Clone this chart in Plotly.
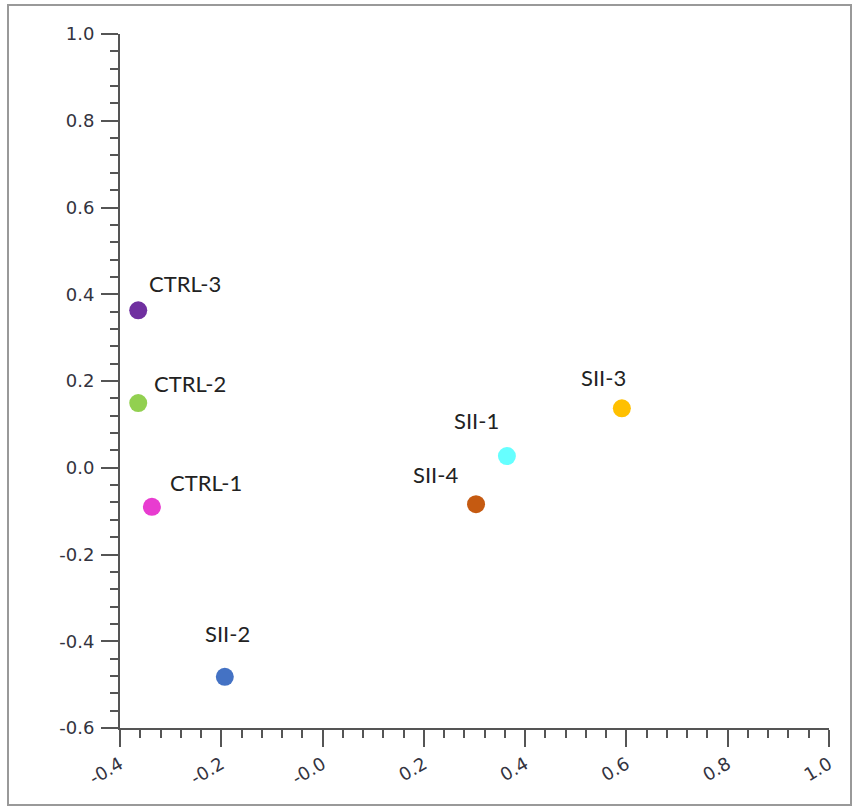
import plotly.graph_objects as go

names = ["CTRL-3", "CTRL-2", "CTRL-1", "SII-2", "SII-4", "SII-1", "SII-3"]
xs = [-0.364, -0.364, -0.337, -0.193, 0.303, 0.364, 0.591]
ys = [0.363, 0.149, -0.090, -0.482, -0.084, 0.027, 0.137]
colors = ["#7030A0", "#92D050", "#E83CD0", "#4472C4", "#C55A11", "#66FFFF", "#FFC000"]
label_dx = [47, 52, 54, 3, -41, -30, -18]
label_dy = [27, 20, 24, 43, 30, 36, 31]

x_tickvals = [-0.4, -0.2, 0.0, 0.2, 0.4, 0.6, 0.8, 1.0]
x_ticktext = ["-0.4", "-0.2", "-0.0", "0.2", "0.4", "0.6", "0.8", "1.0"]
y_tickvals = [-0.6, -0.4, -0.2, 0.0, 0.2, 0.4, 0.6, 0.8, 1.0]
y_ticktext = ["-0.6", "-0.4", "-0.2", "0.0", "0.2", "0.4", "0.6", "0.8", "1.0"]

W, H = 854, 808
ml, mr, mt, mb = 120, 25, 34, 80
pw, ph = W - ml - mr, H - mt - mb

fig = go.Figure()
fig.add_trace(go.Scatter(
    x=xs, y=ys, mode="markers",
    marker=dict(size=18, color=colors, line=dict(width=0)),
    hoverinfo="text", text=names, showlegend=False,
))

for n, x, y, dx, dy in zip(names, xs, ys, label_dx, label_dy):
    fig.add_annotation(x=x, y=y, text=n, showarrow=False, xshift=dx, yshift=dy,
                       font=dict(family="Lato", size=22, color="#222222"))

axis_common = dict(
    showgrid=False, zeroline=False, showline=True, linecolor="#555555", linewidth=2,
    ticks="outside", ticklen=17, tickwidth=2, tickcolor="#555555",
    tickfont=dict(family="DejaVu Sans", size=18, color="#333340"),
    minor=dict(ticks="outside", ticklen=8, tickwidth=2, tickcolor="#555555", dtick=0.04),
    tickmode="array",
)

fig.update_xaxes(range=[-0.4, 1.0], tickangle=-30, tickvals=x_tickvals, ticktext=x_ticktext,
                 **axis_common)
fig.update_yaxes(range=[-0.6, 1.0], ticklabelstandoff=3, tickvals=y_tickvals, ticktext=y_ticktext,
                 **axis_common)

fig.add_shape(type="rect", xref="paper", yref="paper",
              x0=(8 - ml) / pw, x1=(851 - ml) / pw,
              y0=(H - mb - 805) / ph, y1=(H - mb - 5) / ph,
              line=dict(color="#999999", width=2), fillcolor="rgba(0,0,0,0)", layer="below")

fig.update_layout(
    width=W, height=H, margin=dict(l=ml, r=mr, t=mt, b=mb),
    plot_bgcolor="white", paper_bgcolor="white",
)

fig.write_html("out.html")
